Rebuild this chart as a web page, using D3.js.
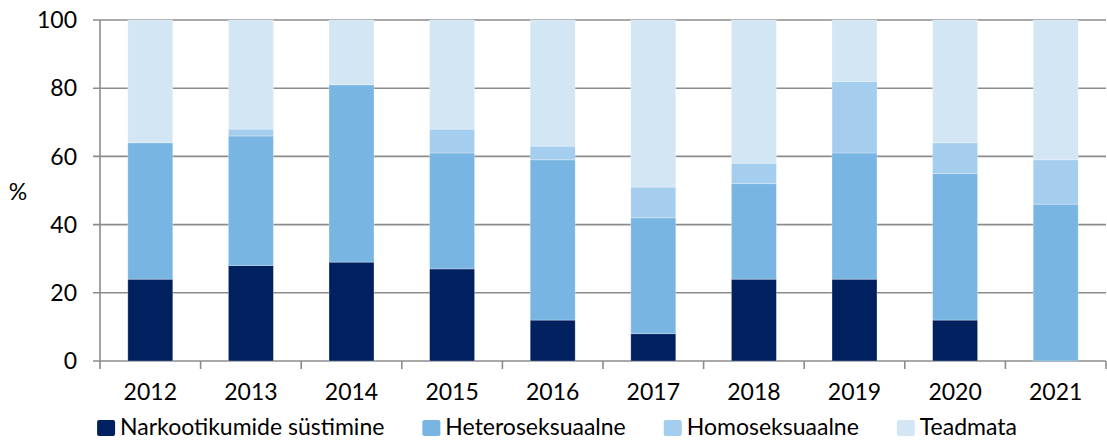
<!DOCTYPE html>
<html>
<head>
<meta charset="utf-8">
<script src="https://cdn.jsdelivr.net/npm/d3@7"></script>
<style>
  body { margin: 0; background: #fff; }
  svg { display: block; font-family: Lato, "Noto Sans", sans-serif; }
</style>
</head>
<body>
<svg id="chart" width="1107" height="441"></svg>
<script>
const years = ["2012", "2013", "2014", "2015", "2016", "2017", "2018", "2019", "2020", "2021"];
const seriesNames = ["Narkootikumide süstimine", "Heteroseksuaalne", "Homoseksuaalne", "Teadmata"];
const injecting = [24, 28, 29, 27, 12, 8, 24, 24, 12, 0];
const hetero = [40, 38, 52, 34, 47, 34, 28, 37, 43, 46];
const homo = [0, 2, 0, 7, 4, 9, 6, 21, 9, 13];
const unknown = [36, 32, 19, 32, 37, 49, 42, 18, 36, 41];
const yTicks = [0, 20, 40, 60, 80, 100];
const colors = ["#002060", "#78b5e2", "#a5cdee", "#d2e6f4"];

const svg = d3.select("#chart");
const margin = {left: 100, right: 1, top: 20, bottom: 80};
const W = 1107, H = 441;
const fontSize = 23;

const table = years.map((y, i) => ({
    year: y,
    [seriesNames[0]]: injecting[i],
    [seriesNames[1]]: hetero[i],
    [seriesNames[2]]: homo[i],
    [seriesNames[3]]: unknown[i]
}));
const stacked = d3.stack().keys(seriesNames)(table);

const x = d3.scaleBand()
    .domain(years)
    .range([margin.left, W - margin.right])
    .paddingInner(0.553)
    .paddingOuter(0.2765);
const y = d3.scaleLinear().domain([0, 100]).range([H - margin.bottom, margin.top]);

const gridColor = "#8c8c8c";

// gridlines
svg.append("g").selectAll("line")
    .data(yTicks)
    .enter().append("line")
    .attr("x1", margin.left - 7)
    .attr("x2", W - margin.right)
    .attr("y1", d => y(d))
    .attr("y2", d => y(d))
    .attr("stroke", gridColor)
    .attr("stroke-width", 1.6);

// y axis line
svg.append("line")
    .attr("x1", margin.left).attr("x2", margin.left)
    .attr("y1", y(100)).attr("y2", y(0))
    .attr("stroke", gridColor).attr("stroke-width", 1.6);

// x ticks at band boundaries
const step = x.step();
const boundaries = d3.range(years.length + 1).map(i => margin.left + i * step);
svg.append("g").selectAll("line")
    .data(boundaries)
    .enter().append("line")
    .attr("x1", d => d).attr("x2", d => d)
    .attr("y1", y(0)).attr("y2", y(0) + 8)
    .attr("stroke", gridColor).attr("stroke-width", 1.6);

// bars
svg.append("g").selectAll("g")
    .data(stacked)
    .enter().append("g")
    .attr("fill", (d, i) => colors[i])
    .selectAll("rect")
    .data(d => d)
    .enter().append("rect")
    .attr("x", d => x(d.data.year))
    .attr("width", x.bandwidth())
    .attr("y", d => y(d[1]))
    .attr("height", d => y(d[0]) - y(d[1]))
    .attr("stroke", "#ffffff")
    .attr("stroke-opacity", 0.35)
    .attr("stroke-width", 0.8);

// y tick labels
svg.append("g").selectAll("text")
    .data(yTicks)
    .enter().append("text")
    .attr("x", 77)
    .attr("y", d => y(d))
    .attr("dy", "0.36em")
    .attr("text-anchor", "end")
    .attr("font-size", fontSize)
    .attr("fill", "#000")
    .text(d => d);

svg.append("text")
    .attr("x", 18).attr("y", 192)
    .attr("dy", "0.36em")
    .attr("text-anchor", "middle")
    .attr("font-size", fontSize)
    .text("%");

// x tick labels
svg.append("g").selectAll("text")
    .data(years)
    .enter().append("text")
    .attr("x", d => x(d) + x.bandwidth() / 2)
    .attr("y", 400)
    .attr("text-anchor", "middle")
    .attr("font-size", fontSize)
    .text(d => d);

// legend
const legend = svg.append("g");
let lx = 0;
seriesNames.forEach((name, i) => {
    const item = legend.append("g").attr("transform", `translate(${lx},0)`);
    item.append("rect")
        .attr("x", 0).attr("y", 420)
        .attr("width", 18).attr("height", 16)
        .attr("rx", 2)
        .attr("fill", colors[i]);
    const t = item.append("text")
        .attr("x", 23).attr("y", 435)
        .attr("font-size", fontSize)
        .text(name);
    lx += 23 + t.node().getComputedTextLength() + 38;
});
const legendWidth = lx - 38;
legend.attr("transform", `translate(${557 - legendWidth / 2},0)`);
</script>
</body>
</html>
